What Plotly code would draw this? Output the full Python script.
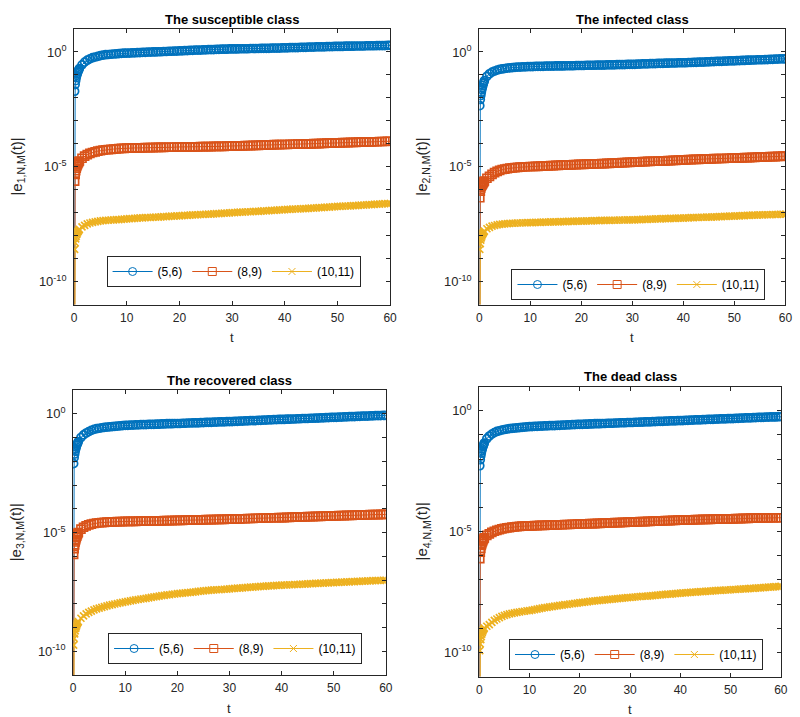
import numpy as np
import plotly.graph_objects as go

# time grid (t)
T = [0, 0.1, 0.2, 0.3, 0.4, 0.5, 0.6, 0.7, 0.8, 0.9,
     1, 1.5, 2, 2.5, 3, 3.5, 4, 4.5, 5, 5.5, 6, 6.5, 7, 7.5, 8, 8.5, 9, 9.5, 10,
     10.5, 11, 11.5, 12, 12.5, 13, 13.5, 14, 14.5, 15, 15.5, 16, 16.5, 17, 17.5, 18, 18.5, 19, 19.5, 20,
     20.5, 21, 21.5, 22, 22.5, 23, 23.5, 24, 24.5, 25, 25.5, 26, 26.5, 27, 27.5, 28, 28.5, 29, 29.5, 30,
     30.5, 31, 31.5, 32, 32.5, 33, 33.5, 34, 34.5, 35, 35.5, 36, 36.5, 37, 37.5, 38, 38.5, 39, 39.5, 40,
     40.5, 41, 41.5, 42, 42.5, 43, 43.5, 44, 44.5, 45, 45.5, 46, 46.5, 47, 47.5, 48, 48.5, 49, 49.5, 50,
     50.5, 51, 51.5, 52, 52.5, 53, 53.5, 54, 54.5, 55, 55.5, 56, 56.5, 57, 57.5, 58, 58.5, 59, 59.5, 60]

# log10 |e_{k,N,M}(t)| (t=0 value is ~0, below the axis)
# ---------------- susceptible class
S_56 = [-20, -1.71, -1.42, -1.25, -1.12, -1.02, -0.95, -0.88, -0.82, -0.77,
        -0.72, -0.56, -0.44, -0.36, -0.30, -0.25, -0.22, -0.19, -0.16, -0.14, -0.12, -0.11, -0.10, -0.09, -0.08, -0.07, -0.06, -0.055, -0.05,
        -0.05, -0.04, -0.04, -0.03, -0.03, -0.02, -0.02, -0.01, -0.01, 0.00, 0.00, 0.01, 0.01, 0.02, 0.02, 0.03, 0.03, 0.04, 0.04, 0.05,
        0.05, 0.06, 0.06, 0.07, 0.07, 0.08, 0.08, 0.08, 0.09, 0.09, 0.10, 0.10, 0.10, 0.11, 0.11, 0.12, 0.12, 0.12, 0.13, 0.13,
        0.13, 0.13, 0.14, 0.14, 0.14, 0.14, 0.15, 0.15, 0.15, 0.15, 0.16, 0.16, 0.16, 0.16, 0.17, 0.17, 0.17, 0.17, 0.18, 0.18,
        0.18, 0.19, 0.19, 0.19, 0.19, 0.20, 0.20, 0.20, 0.21, 0.21, 0.21, 0.22, 0.22, 0.22, 0.22, 0.23, 0.23, 0.23, 0.24, 0.24,
        0.24, 0.24, 0.25, 0.25, 0.25, 0.25, 0.26, 0.26, 0.26, 0.26, 0.27, 0.27, 0.27, 0.27, 0.28, 0.28, 0.28, 0.28, 0.29, 0.29]
S_89 = [-20, -5.63, -5.33, -5.17, -5.06, -4.98, -4.92, -4.87, -4.82, -4.78,
        -4.75, -4.63, -4.54, -4.47, -4.42, -4.38, -4.35, -4.32, -4.30, -4.28, -4.26, -4.25, -4.24, -4.23, -4.22, -4.21, -4.20, -4.20, -4.19,
        -4.19, -4.19, -4.18, -4.18, -4.18, -4.18, -4.17, -4.17, -4.17, -4.17, -4.16, -4.16, -4.16, -4.16, -4.15, -4.15, -4.15, -4.15, -4.14, -4.14,
        -4.14, -4.14, -4.13, -4.13, -4.13, -4.13, -4.13, -4.12, -4.12, -4.12, -4.12, -4.12, -4.11, -4.11, -4.11, -4.11, -4.11, -4.10, -4.10, -4.10,
        -4.10, -4.09, -4.09, -4.09, -4.08, -4.08, -4.08, -4.07, -4.07, -4.07, -4.06, -4.06, -4.06, -4.05, -4.05, -4.04, -4.04, -4.04, -4.03, -4.03,
        -4.03, -4.02, -4.02, -4.02, -4.01, -4.01, -4.01, -4.00, -4.00, -4.00, -3.99, -3.99, -3.99, -3.98, -3.98, -3.97, -3.97, -3.97, -3.96, -3.96,
        -3.96, -3.95, -3.95, -3.95, -3.94, -3.94, -3.94, -3.93, -3.93, -3.93, -3.92, -3.92, -3.92, -3.91, -3.91, -3.90, -3.90, -3.90, -3.89, -3.89]
S_1011 = [-20, -8.60, -8.31, -8.14, -8.03, -7.95, -7.89, -7.84, -7.80, -7.76,
          -7.73, -7.62, -7.55, -7.49, -7.45, -7.42, -7.40, -7.38, -7.36, -7.35, -7.34, -7.33, -7.32, -7.31, -7.30, -7.30, -7.29, -7.28, -7.27,
          -7.26, -7.26, -7.25, -7.24, -7.23, -7.23, -7.22, -7.21, -7.21, -7.20, -7.19, -7.19, -7.18, -7.17, -7.17, -7.16, -7.15, -7.15, -7.14, -7.14,
          -7.13, -7.12, -7.12, -7.11, -7.10, -7.10, -7.09, -7.08, -7.08, -7.07, -7.06, -7.06, -7.05, -7.04, -7.04, -7.03, -7.02, -7.02, -7.01, -7.00,
          -7.00, -6.99, -6.98, -6.98, -6.97, -6.96, -6.96, -6.95, -6.94, -6.94, -6.93, -6.92, -6.92, -6.91, -6.90, -6.90, -6.89, -6.88, -6.88, -6.87,
          -6.86, -6.86, -6.85, -6.84, -6.84, -6.83, -6.82, -6.82, -6.81, -6.80, -6.80, -6.79, -6.78, -6.78, -6.77, -6.76, -6.76, -6.75, -6.74, -6.73,
          -6.73, -6.72, -6.71, -6.71, -6.70, -6.69, -6.69, -6.68, -6.67, -6.67, -6.66, -6.65, -6.65, -6.64, -6.63, -6.63, -6.62, -6.61, -6.61, -6.60]
# ---------------- infected class
I_56 = [-20, -2.34, -2.07, -1.90, -1.77, -1.65, -1.55, -1.46, -1.38, -1.31,
        -1.25, -1.06, -0.95, -0.88, -0.83, -0.79, -0.76, -0.74, -0.72, -0.70, -0.69, -0.68, -0.67, -0.66, -0.66, -0.65, -0.65, -0.64, -0.64,
        -0.64, -0.63, -0.63, -0.63, -0.63, -0.62, -0.62, -0.62, -0.62, -0.61, -0.61, -0.61, -0.61, -0.60, -0.60, -0.60, -0.60, -0.59, -0.59, -0.59,
        -0.59, -0.58, -0.58, -0.58, -0.58, -0.57, -0.57, -0.57, -0.57, -0.56, -0.56, -0.56, -0.56, -0.55, -0.55, -0.55, -0.55, -0.54, -0.54, -0.54,
        -0.54, -0.53, -0.53, -0.52, -0.52, -0.52, -0.51, -0.51, -0.51, -0.50, -0.50, -0.50, -0.49, -0.49, -0.48, -0.48, -0.48, -0.47, -0.47, -0.47,
        -0.47, -0.46, -0.46, -0.45, -0.45, -0.44, -0.44, -0.44, -0.43, -0.43, -0.42, -0.42, -0.41, -0.41, -0.41, -0.40, -0.40, -0.39, -0.39, -0.39,
        -0.38, -0.38, -0.37, -0.37, -0.36, -0.36, -0.35, -0.35, -0.34, -0.34, -0.34, -0.33, -0.33, -0.32, -0.32, -0.31, -0.31, -0.30, -0.30, -0.30]
I_89 = [-20, -6.35, -6.06, -5.92, -5.85, -5.80, -5.76, -5.72, -5.68, -5.65,
        -5.62, -5.50, -5.42, -5.33, -5.26, -5.20, -5.16, -5.12, -5.10, -5.08, -5.06, -5.05, -5.04, -5.03, -5.02, -5.01, -5.00, -5.00, -4.99,
        -4.99, -4.98, -4.98, -4.97, -4.97, -4.96, -4.96, -4.95, -4.95, -4.94, -4.94, -4.93, -4.93, -4.92, -4.92, -4.92, -4.91, -4.91, -4.90, -4.90,
        -4.90, -4.89, -4.89, -4.88, -4.88, -4.87, -4.87, -4.86, -4.86, -4.85, -4.85, -4.84, -4.84, -4.83, -4.83, -4.82, -4.82, -4.81, -4.81, -4.80,
        -4.80, -4.79, -4.79, -4.78, -4.78, -4.77, -4.77, -4.76, -4.76, -4.75, -4.75, -4.74, -4.74, -4.73, -4.73, -4.72, -4.72, -4.71, -4.71, -4.70,
        -4.70, -4.69, -4.69, -4.68, -4.68, -4.68, -4.67, -4.67, -4.66, -4.66, -4.66, -4.65, -4.65, -4.64, -4.64, -4.64, -4.63, -4.63, -4.62, -4.62,
        -4.62, -4.61, -4.61, -4.60, -4.60, -4.60, -4.59, -4.59, -4.58, -4.58, -4.58, -4.57, -4.57, -4.56, -4.56, -4.56, -4.55, -4.55, -4.54, -4.54]
I_1011 = [-20, -8.60, -8.35, -8.20, -8.10, -8.02, -7.96, -7.91, -7.87, -7.83,
          -7.80, -7.70, -7.64, -7.59, -7.56, -7.53, -7.51, -7.50, -7.49, -7.48, -7.47, -7.46, -7.46, -7.45, -7.45, -7.44, -7.44, -7.43, -7.43,
          -7.43, -7.42, -7.42, -7.42, -7.41, -7.41, -7.41, -7.40, -7.40, -7.40, -7.40, -7.39, -7.39, -7.39, -7.38, -7.38, -7.38, -7.37, -7.37, -7.37,
          -7.37, -7.36, -7.36, -7.36, -7.35, -7.35, -7.35, -7.34, -7.34, -7.34, -7.34, -7.33, -7.33, -7.33, -7.32, -7.32, -7.32, -7.31, -7.31, -7.31,
          -7.31, -7.30, -7.30, -7.29, -7.29, -7.29, -7.28, -7.28, -7.27, -7.27, -7.27, -7.26, -7.26, -7.26, -7.25, -7.25, -7.25, -7.24, -7.24, -7.24,
          -7.23, -7.23, -7.22, -7.22, -7.21, -7.21, -7.20, -7.20, -7.19, -7.19, -7.19, -7.18, -7.18, -7.17, -7.17, -7.16, -7.16, -7.15, -7.15, -7.15,
          -7.14, -7.14, -7.13, -7.13, -7.12, -7.12, -7.11, -7.11, -7.11, -7.10, -7.10, -7.09, -7.09, -7.09, -7.08, -7.08, -7.08, -7.07, -7.07, -7.07]
# ---------------- recovered class
R_56 = [-20, -2.10, -1.85, -1.70, -1.58, -1.48, -1.40, -1.33, -1.27, -1.22,
        -1.17, -1.00, -0.89, -0.81, -0.75, -0.70, -0.66, -0.63, -0.61, -0.59, -0.57, -0.56, -0.55, -0.54, -0.53, -0.52, -0.51, -0.50, -0.49,
        -0.49, -0.48, -0.48, -0.47, -0.47, -0.46, -0.46, -0.46, -0.45, -0.45, -0.45, -0.44, -0.44, -0.43, -0.43, -0.42, -0.42, -0.42, -0.41, -0.41,
        -0.41, -0.40, -0.40, -0.39, -0.39, -0.38, -0.38, -0.38, -0.37, -0.37, -0.36, -0.36, -0.36, -0.35, -0.35, -0.34, -0.34, -0.34, -0.33, -0.33,
        -0.33, -0.32, -0.32, -0.31, -0.31, -0.30, -0.30, -0.29, -0.29, -0.29, -0.28, -0.28, -0.27, -0.27, -0.26, -0.26, -0.25, -0.25, -0.24, -0.24,
        -0.24, -0.23, -0.23, -0.22, -0.22, -0.21, -0.21, -0.20, -0.20, -0.20, -0.19, -0.19, -0.18, -0.18, -0.17, -0.17, -0.16, -0.16, -0.15, -0.15,
        -0.15, -0.14, -0.14, -0.13, -0.13, -0.12, -0.12, -0.12, -0.11, -0.11, -0.10, -0.10, -0.10, -0.09, -0.09, -0.08, -0.08, -0.08, -0.07, -0.07]
R_89 = [-20, -5.92, -5.68, -5.52, -5.40, -5.30, -5.22, -5.15, -5.09, -5.04,
        -5.00, -4.86, -4.78, -4.72, -4.68, -4.65, -4.62, -4.60, -4.59, -4.58, -4.57, -4.56, -4.56, -4.55, -4.55, -4.54, -4.54, -4.54, -4.53,
        -4.53, -4.53, -4.53, -4.53, -4.52, -4.52, -4.52, -4.52, -4.52, -4.51, -4.51, -4.51, -4.51, -4.51, -4.50, -4.50, -4.50, -4.50, -4.49, -4.49,
        -4.49, -4.49, -4.48, -4.48, -4.48, -4.48, -4.47, -4.47, -4.47, -4.47, -4.46, -4.46, -4.46, -4.46, -4.45, -4.45, -4.45, -4.45, -4.44, -4.44,
        -4.44, -4.43, -4.43, -4.43, -4.42, -4.42, -4.41, -4.41, -4.41, -4.40, -4.40, -4.40, -4.39, -4.39, -4.39, -4.38, -4.38, -4.38, -4.37, -4.37,
        -4.37, -4.36, -4.36, -4.35, -4.35, -4.35, -4.34, -4.34, -4.34, -4.33, -4.33, -4.33, -4.32, -4.32, -4.32, -4.31, -4.31, -4.31, -4.30, -4.30,
        -4.30, -4.29, -4.29, -4.29, -4.28, -4.28, -4.28, -4.27, -4.27, -4.27, -4.26, -4.26, -4.26, -4.25, -4.25, -4.25, -4.25, -4.24, -4.24, -4.24]
R_1011 = [-20, -9.74, -9.46, -9.27, -9.14, -9.04, -8.97, -8.90, -8.84, -8.79,
          -8.75, -8.61, -8.51, -8.43, -8.36, -8.31, -8.26, -8.22, -8.18, -8.15, -8.12, -8.09, -8.06, -8.04, -8.01, -7.99, -7.96, -7.94, -7.92,
          -7.90, -7.88, -7.86, -7.84, -7.82, -7.80, -7.79, -7.77, -7.75, -7.73, -7.71, -7.70, -7.68, -7.66, -7.65, -7.63, -7.62, -7.60, -7.59, -7.57,
          -7.56, -7.55, -7.54, -7.53, -7.52, -7.51, -7.50, -7.48, -7.47, -7.46, -7.45, -7.44, -7.43, -7.42, -7.41, -7.41, -7.40, -7.39, -7.38, -7.37,
          -7.36, -7.35, -7.34, -7.34, -7.33, -7.32, -7.31, -7.30, -7.30, -7.29, -7.28, -7.27, -7.27, -7.26, -7.25, -7.25, -7.24, -7.23, -7.23, -7.22,
          -7.21, -7.21, -7.20, -7.20, -7.19, -7.19, -7.18, -7.17, -7.17, -7.16, -7.15, -7.15, -7.14, -7.14, -7.13, -7.13, -7.12, -7.12, -7.11, -7.11,
          -7.10, -7.10, -7.09, -7.09, -7.08, -7.08, -7.07, -7.07, -7.06, -7.06, -7.05, -7.05, -7.04, -7.04, -7.03, -7.03, -7.02, -7.02, -7.01, -7.01]
# ---------------- dead class
D_56 = [-20, -2.28, -2.03, -1.88, -1.76, -1.66, -1.58, -1.50, -1.44, -1.39,
        -1.34, -1.16, -1.05, -0.97, -0.91, -0.86, -0.83, -0.80, -0.78, -0.76, -0.74, -0.73, -0.72, -0.71, -0.70, -0.69, -0.68, -0.67, -0.66,
        -0.66, -0.65, -0.65, -0.64, -0.64, -0.63, -0.63, -0.62, -0.62, -0.62, -0.61, -0.61, -0.60, -0.60, -0.59, -0.59, -0.58, -0.58, -0.57, -0.57,
        -0.57, -0.56, -0.56, -0.55, -0.55, -0.54, -0.54, -0.54, -0.53, -0.53, -0.52, -0.52, -0.52, -0.51, -0.51, -0.50, -0.50, -0.50, -0.49, -0.49,
        -0.49, -0.48, -0.48, -0.47, -0.47, -0.46, -0.46, -0.46, -0.45, -0.45, -0.44, -0.44, -0.44, -0.43, -0.43, -0.42, -0.42, -0.42, -0.41, -0.41,
        -0.41, -0.40, -0.40, -0.39, -0.39, -0.38, -0.38, -0.38, -0.37, -0.37, -0.36, -0.36, -0.36, -0.35, -0.35, -0.34, -0.34, -0.34, -0.33, -0.33,
        -0.33, -0.32, -0.32, -0.31, -0.31, -0.30, -0.30, -0.30, -0.29, -0.29, -0.28, -0.28, -0.28, -0.27, -0.27, -0.26, -0.26, -0.26, -0.25, -0.25]
D_89 = [-20, -6.12, -5.85, -5.70, -5.58, -5.50, -5.43, -5.38, -5.33, -5.29,
        -5.26, -5.16, -5.10, -5.04, -4.99, -4.95, -4.92, -4.89, -4.87, -4.85, -4.84, -4.82, -4.81, -4.80, -4.79, -4.78, -4.78, -4.77, -4.77,
        -4.77, -4.76, -4.76, -4.75, -4.75, -4.75, -4.74, -4.74, -4.73, -4.73, -4.73, -4.72, -4.72, -4.71, -4.71, -4.71, -4.70, -4.70, -4.69, -4.69,
        -4.69, -4.68, -4.68, -4.67, -4.67, -4.67, -4.66, -4.66, -4.65, -4.65, -4.65, -4.64, -4.64, -4.63, -4.63, -4.63, -4.62, -4.62, -4.61, -4.61,
        -4.61, -4.60, -4.60, -4.59, -4.59, -4.59, -4.58, -4.58, -4.57, -4.57, -4.57, -4.56, -4.56, -4.55, -4.55, -4.55, -4.54, -4.54, -4.53, -4.53,
        -4.53, -4.53, -4.52, -4.52, -4.52, -4.51, -4.51, -4.51, -4.50, -4.50, -4.50, -4.50, -4.49, -4.49, -4.49, -4.49, -4.48, -4.48, -4.48, -4.48,
        -4.48, -4.47, -4.47, -4.47, -4.46, -4.46, -4.46, -4.45, -4.45, -4.45, -4.45, -4.44, -4.44, -4.44, -4.44, -4.43, -4.43, -4.43, -4.43, -4.43]
D_1011 = [-20, -9.93, -9.65, -9.47, -9.35, -9.25, -9.18, -9.12, -9.07, -9.03,
          -9.00, -8.92, -8.85, -8.76, -8.68, -8.62, -8.56, -8.51, -8.47, -8.44, -8.41, -8.39, -8.37, -8.35, -8.33, -8.31, -8.30, -8.28, -8.27,
          -8.25, -8.23, -8.21, -8.19, -8.17, -8.15, -8.14, -8.12, -8.11, -8.09, -8.08, -8.06, -8.05, -8.03, -8.02, -8.00, -7.99, -7.97, -7.96, -7.94,
          -7.93, -7.92, -7.91, -7.89, -7.88, -7.87, -7.86, -7.85, -7.84, -7.83, -7.82, -7.81, -7.80, -7.79, -7.78, -7.77, -7.76, -7.75, -7.74, -7.73,
          -7.72, -7.71, -7.70, -7.69, -7.68, -7.68, -7.67, -7.66, -7.65, -7.64, -7.63, -7.62, -7.61, -7.60, -7.59, -7.59, -7.58, -7.57, -7.56, -7.55,
          -7.54, -7.54, -7.53, -7.52, -7.51, -7.51, -7.50, -7.49, -7.49, -7.48, -7.47, -7.47, -7.46, -7.45, -7.44, -7.44, -7.43, -7.42, -7.42, -7.41,
          -7.40, -7.40, -7.39, -7.38, -7.37, -7.37, -7.36, -7.35, -7.35, -7.34, -7.33, -7.33, -7.32, -7.31, -7.30, -7.30, -7.29, -7.28, -7.28, -7.27]

SERIES_NAMES = ["(5,6)", "(8,9)", "(10,11)"]
PANEL_TITLES = ["The susceptible class", "The infected class",
                "The recovered class", "The dead class"]
PANEL_DATA = [[S_56, S_89, S_1011], [I_56, I_89, I_1011],
              [R_56, R_89, R_1011], [D_56, D_89, D_1011]]
X_TICKS = [0, 10, 20, 30, 40, 50, 60]
Y_MAJOR = [0, -5, -10]
Y_MAJOR_TEXT = ["10<sup>0</sup>", "10<sup>-5</sup>", "10<sup>-10</sup>"]
Y_DECADES = list(range(-11, 2))

COLORS = ["#0072BD", "#D95319", "#EDB120"]
SYMBOLS = ["circle-open", "square-open", "x-thin-open"]
AX = "#262626"
FONT = "Liberation Sans, Arial, Helvetica, sans-serif"

W, H = 800, 717
# plot-area boxes in pixels: (left, top, right, bottom)
BOXES = [(72, 29, 392, 304.5), (482.3, 29, 792.3, 304.5),
         (71, 390, 387.7, 675), (482.3, 386.5, 787.7, 676.5)]
LEGEND_POS = [(233.5, 256), (643.5, 269), (235, 633), (641, 639)]

fig = go.Figure()
annotations = []
t = np.array(T, dtype=float)

# legend-only traces (thin marker outlines as in the legend of the reference)
for p in range(4):
    ax = "" if p == 0 else str(p + 1)
    leg = "legend" if p == 0 else "legend" + str(p + 1)
    for k in range(3):
        vals = PANEL_DATA[p][k]
        assert len(vals) == len(T), (p, k, len(vals), len(T))
        y = np.power(10.0, np.array(vals, dtype=float))
        # data band (dense markers)
        fig.add_trace(go.Scatter(
            x=t, y=y, mode="lines+markers", name=SERIES_NAMES[k],
            xaxis="x" + ax, yaxis="y" + ax, legend=leg, showlegend=False,
            line=dict(color=COLORS[k], width=1),
            marker=dict(symbol=SYMBOLS[k], size=8 if k < 2 else 7,
                        color=COLORS[k], line=dict(color=COLORS[k], width=1.7)),
        ))
        # legend entry
        fig.add_trace(go.Scatter(
            x=[None], y=[None], mode="lines+markers", name=SERIES_NAMES[k],
            xaxis="x" + ax, yaxis="y" + ax, legend=leg, showlegend=True,
            line=dict(color=COLORS[k], width=1),
            marker=dict(symbol=SYMBOLS[k], size=8 if k < 2 else 7,
                        color=COLORS[k], line=dict(color=COLORS[k], width=1)),
        ))
    l, tp, r, b = BOXES[p]
    xd = [l / W, r / W]
    yd = [1 - b / H, 1 - tp / H]
    fig.layout["xaxis" + ax] = dict(
        domain=xd, range=[0, 60], anchor="y" + ax,
        tickvals=X_TICKS, ticks="inside", ticklen=4, tickcolor=AX,
        showline=True, linecolor=AX, linewidth=1, mirror="allticks",
        showgrid=False, zeroline=False,
        tickfont=dict(family=FONT, size=12, color=AX), ticklabelstandoff=2)
    fig.layout["yaxis" + ax] = dict(
        domain=yd, type="log", range=[-11, 1], anchor="x" + ax,
        tickvals=[10.0 ** d for d in Y_MAJOR], ticktext=Y_MAJOR_TEXT,
        ticks="inside", ticklen=4, tickcolor=AX,
        minor=dict(tickvals=[10.0 ** d for d in Y_DECADES], ticks="inside",
                   ticklen=4, tickcolor=AX, showgrid=False),
        showline=True, linecolor=AX, linewidth=1, mirror="allticks",
        showgrid=False, zeroline=False,
        tickfont=dict(family=FONT, size=13, color=AX), ticklabelstandoff=4)
    lx, ly = LEGEND_POS[p]
    fig.layout[leg] = dict(
        x=lx / W, y=1 - ly / H, xanchor="center", yanchor="top",
        orientation="h", bordercolor=AX, borderwidth=1, bgcolor="white",
        font=dict(family=FONT, size=12, color="#000000"),
        itemwidth=40, tracegroupgap=0, itemclick=False)
    cx = (l + r) / 2
    annotations.append(dict(
        text="<b>" + PANEL_TITLES[p] + "</b>", x=cx / W, y=1 - (tp - 10) / H,
        xref="paper", yref="paper", showarrow=False, xanchor="center",
        yanchor="middle", font=dict(family=FONT, size=13, color="#000000")))
    annotations.append(dict(
        text="t", x=cx / W, y=1 - (b + 33) / H, xref="paper", yref="paper",
        showarrow=False, xanchor="center", yanchor="middle",
        font=dict(family=FONT, size=13, color=AX)))
    annotations.append(dict(
        text="|e<sub>%d,N,M</sub>(t)|" % (p + 1), x=(l - 57) / W,
        y=1 - ((tp + b) / 2) / H, xref="paper", yref="paper",
        showarrow=False, xanchor="center", yanchor="middle", textangle=-90,
        font=dict(family=FONT, size=15, color=AX)))

fig.update_layout(
    width=W, height=H, margin=dict(l=0, r=0, t=0, b=0),
    paper_bgcolor="white", plot_bgcolor="white",
    annotations=annotations, showlegend=True,
)
fig.write_html("out.html")
